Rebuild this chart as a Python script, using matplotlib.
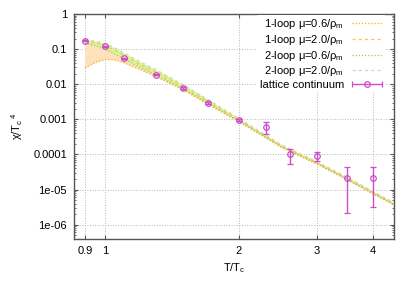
import matplotlib
matplotlib.use("Agg")
import matplotlib.pyplot as plt
from matplotlib.ticker import FixedLocator, FixedFormatter, LogLocator, NullFormatter
from matplotlib.legend_handler import HandlerErrorbar
import numpy as np

plt.rcParams['font.family'] = ['Liberation Sans', 'DejaVu Sans']
plt.rcParams['mathtext.fontset'] = 'custom'
plt.rcParams['mathtext.rm'] = 'Liberation Sans'
plt.rcParams['mathtext.it'] = 'Liberation Sans:italic'
plt.rcParams['font.size'] = 8

# perturbative curves
x_curve = [0.9, 0.95, 1.0, 1.05, 1.1, 1.2, 1.3, 1.5, 1.7, 2.0, 2.5, 3.0, 3.5, 4.0, 4.5]
oneloop_06 = [0.029, 0.042, 0.051, 0.049, 0.041, 0.026, 0.0165, 0.0068, 0.0027, 0.00085, 0.000155, 5.3e-5, 1.9e-5, 7.6e-6, 3.5e-6]
oneloop_20 = [0.17, 0.15, 0.125, 0.092, 0.066, 0.036, 0.022, 0.0083, 0.0032, 0.00096, 0.000172, 5.8e-5, 2.1e-5, 8.4e-6, 3.75e-6]
twoloop_06 = [0.15, 0.125, 0.098, 0.072, 0.053, 0.03, 0.0185, 0.0073, 0.0029, 0.00089, 0.000162, 5.5e-5, 2.0e-5, 8.0e-6, 3.6e-6]
twoloop_20 = [0.19, 0.168, 0.145, 0.108, 0.078, 0.043, 0.026, 0.0096, 0.0037, 0.00106, 0.000185, 6.2e-5, 2.25e-5, 9.0e-6, 4.0e-6]

# lattice continuum
x_lat = [0.9, 1.0, 1.1, 1.3, 1.5, 1.7, 2.0, 2.3, 2.6, 3.0, 3.5, 4.0]
y_lat = [0.173, 0.119, 0.055, 0.0185, 0.0077, 0.0029, 0.00094, 0.0006, 1.0e-4, 8.8e-5, 2.2e-5, 2.2e-5]
y_lat_lo = [0.167, 0.114, 0.053, 0.0178, 0.0073, 0.00275, 0.00088, 0.00039, 5.4e-5, 6.5e-5, 2.2e-6, 3.2e-6]
y_lat_hi = [0.179, 0.124, 0.057, 0.0192, 0.0081, 0.00305, 0.001, 0.00084, 1.45e-4, 1.17e-4, 4.4e-5, 4.4e-5]

xticks = [0.9, 1, 2, 3, 4]
xticklabels = ['0.9', '1', '2', '3', '4']
yticks = [1, 0.1, 0.01, 0.001, 0.0001, 1e-5, 1e-6]
yticklabels = ['1', '0.1', '0.01', '0.001', '0.0001', '1e-05', '1e-06']

lat_color = '#cc4ccc'

fig = plt.figure(figsize=(4.15, 2.91), dpi=100)
ax = fig.add_axes([74/415, 1-239/291, 320/415, 225/291])

ax.fill_between(x_curve, oneloop_06, oneloop_20, color='#ffe2bc', lw=0, zorder=1)
ax.fill_between(x_curve, twoloop_06, twoloop_20, color='#d6f59c', lw=0, zorder=2)
ax.plot(x_curve, oneloop_06, ls=(0, (1, 1.5)), color='#ffb020', lw=0.9, zorder=3, label=r'1-loop μ=0.6/ρ$_\mathrm{m}$')
ax.plot(x_curve, oneloop_20, ls=(0, (2.5, 2.5)), color='#ffc640', lw=0.9, zorder=3, label=r'1-loop μ=2.0/ρ$_\mathrm{m}$')
ax.plot(x_curve, twoloop_06, ls=(0, (1, 1.5)), color='#a8c070', lw=0.9, zorder=3, label=r'2-loop μ=0.6/ρ$_\mathrm{m}$')
ax.plot(x_curve, twoloop_20, ls=(0, (2.5, 2.5)), color='#d4d4bc', lw=0.9, zorder=3, label=r'2-loop μ=2.0/ρ$_\mathrm{m}$')

y_lat_a = np.array(y_lat)
yerr = [y_lat_a - np.array(y_lat_lo), np.array(y_lat_hi) - y_lat_a]
ax.errorbar(x_lat, y_lat, yerr=yerr, fmt='o', color=lat_color, mfc='none', ms=4, mew=0.9,
            elinewidth=1, capsize=2, capthick=0.9, zorder=5)

# legend proxy: horizontal bar with caps, like the gnuplot key sample
proxy = ax.errorbar([np.nan], [np.nan], xerr=[np.nan], fmt='o', color=lat_color, mfc='none', ms=4, mew=0.9,
                    elinewidth=1, capsize=2.5, capthick=0.9, label='lattice continuum')

ax.set_xscale('log')
ax.set_yscale('log')
ax.set_xlim(0.85, 4.47)
ax.set_ylim(3.9e-7, 1)

ax.xaxis.set_major_locator(FixedLocator(xticks))
ax.xaxis.set_major_formatter(FixedFormatter(xticklabels))
ax.xaxis.set_minor_locator(FixedLocator([]))
ax.yaxis.set_major_locator(FixedLocator(yticks))
ax.yaxis.set_major_formatter(FixedFormatter(yticklabels))
ax.yaxis.set_minor_locator(LogLocator(base=10, subs=np.arange(2, 10)))
ax.yaxis.set_minor_formatter(NullFormatter())

ax.tick_params(which='both', direction='in', top=True, right=True, color='#555555', pad=5)
ax.tick_params(which='major', length=3, width=0.8)
ax.tick_params(which='minor', length=1.5, width=0.6)
for s in ax.spines.values():
    s.set_color('#555555')
    s.set_linewidth(1)

ax.grid(True, which='major', ls=':', color='#b8b8b8', lw=0.7, zorder=0)
ax.set_axisbelow(True)

ax.set_xlabel(r'T/T$_\mathrm{c}$', labelpad=4)
ax.set_ylabel(r'χ/T$_\mathrm{c}$$^{\,4}$', labelpad=6)

leg = ax.legend(loc='upper right', bbox_to_anchor=(385/415, 1-15/291), bbox_transform=fig.transFigure,
                markerfirst=False, frameon=True, framealpha=1, edgecolor='none', facecolor='white',
                handlelength=2.8, handletextpad=0.7, labelspacing=0.15, borderpad=0.2, borderaxespad=0,
                fancybox=False, handler_map={proxy: HandlerErrorbar(xerr_size=1.35)})
leg.set_zorder(10)

plt.savefig('out.png', dpi=100)
